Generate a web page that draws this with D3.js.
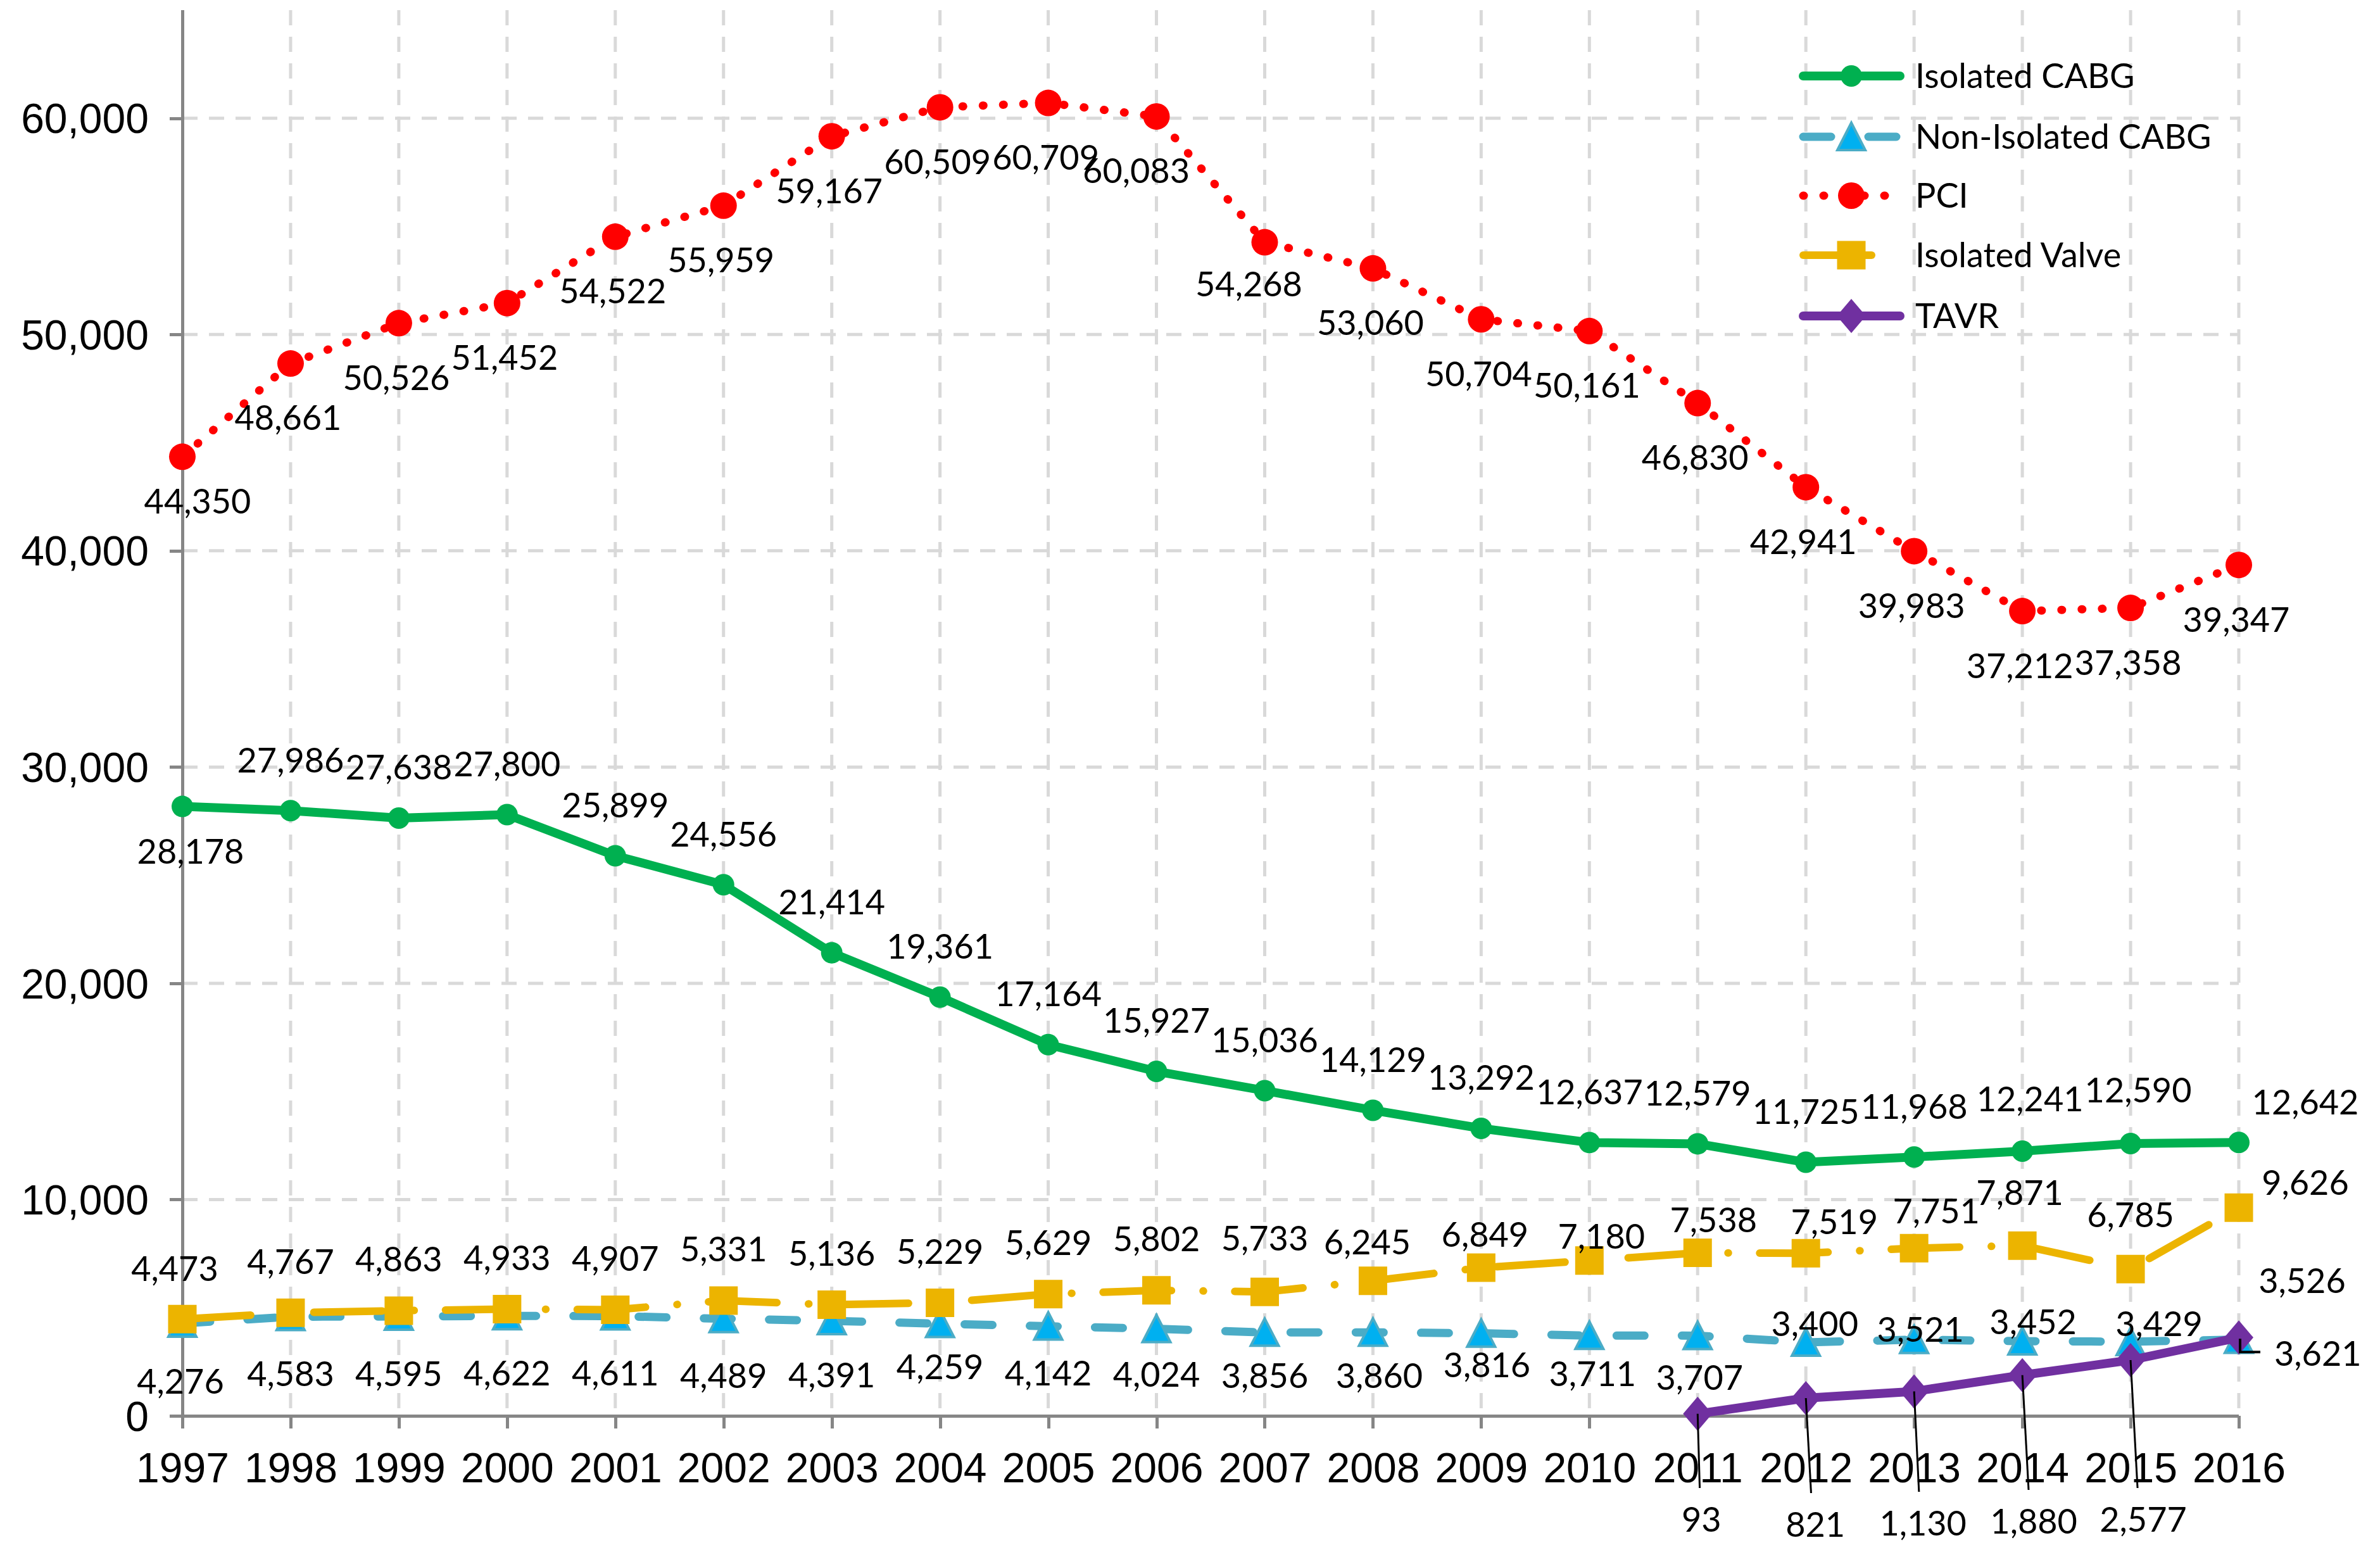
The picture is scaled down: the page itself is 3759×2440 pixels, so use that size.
<!DOCTYPE html>
<html>
<head>
<meta charset="utf-8">
<script src="https://cdn.jsdelivr.net/npm/d3@7"></script>
<style>
html,body{margin:0;padding:0;background:#ffffff;}
svg{display:block;}
</style>
</head>
<body>
<svg id="chart" width="3759" height="2440"></svg>
<script>
// ---------------- DATA ----------------
const years = ["1997","1998","1999","2000","2001","2002","2003","2004","2005","2006",
               "2007","2008","2009","2010","2011","2012","2013","2014","2015","2016"];
const isolatedCABG    = [28178,27986,27638,27800,25899,24556,21414,19361,17164,15927,
                         15036,14129,13292,12637,12579,11725,11968,12241,12590,12642];
const nonIsolatedCABG = [4276,4583,4595,4622,4611,4489,4391,4259,4142,4024,
                         3856,3860,3816,3711,3707,3400,3521,3452,3429,3526];
const pci             = [44350,48661,50526,51452,54522,55959,59167,60509,60709,60083,
                         54268,53060,50704,50161,46830,42941,39983,37212,37358,39347];
const isolatedValve   = [4473,4767,4863,4933,4907,5331,5136,5229,5629,5802,
                         5733,6245,6849,7180,7538,7519,7751,7871,6785,9626];
const tavrYears       = ["2011","2012","2013","2014","2015","2016"];
const tavr            = [93,821,1130,1880,2577,3621];
const yTickValues     = [0,10000,20000,30000,40000,50000,60000];
const seriesNames     = ["Isolated CABG","Non-Isolated CABG","PCI","Isolated Valve","TAVR"];

// ---------------- LAYOUT / STYLE ----------------
const W = 3759, H = 2440;
const plot = {left: 288, right: 3536, top: 16, bottom: 2236};
const yMax = 65000;

const styles = {
  "Isolated CABG":     {color:"#00B050", width:14, dash:null,              marker:"circle",   r:17},
  "Non-Isolated CABG": {color:"#4BACC6", width:13, dash:"44,59",           marker:"triangle", fill:"#00B0F0"},
  "PCI":               {color:"#FF0000", width:13, dash:"1,31",            marker:"circle",   r:21},
  "Isolated Valve":    {color:"#ECB400", width:12, dash:"108,50,0.5,49.5", marker:"square"},
  "TAVR":              {color:"#7030A0", width:14, dash:null,              marker:"diamond"}
};

// label offsets relative to the point (layout only)
const labelLayout = {
  "Isolated CABG": {def:[0,-80], nudge:{"1997":[13,71],"2014":[12,-82],"2015":[12,-84],"2016":[105,-64]}},
  "Non-Isolated CABG": {def:[0,90], nudge:{
      "1997":[-3,92],"2003":[0,86],"2004":[0,68],"2005":[0,74],"2006":[0,72],"2007":[0,68],
      "2008":[10,68],"2009":[9,50],"2010":[5,60],"2011":[3,66],
      "2012":[14,-29],"2013":[10,-16],"2014":[17,-31],"2015":[45,-28],"2016":[100,-93]}},
  "PCI": {def:[-4,86], nudge:{"1997":[24,70],"2006":[-32,86],"2007":[-25,66]}},
  "Isolated Valve": {def:[0,-81], nudge:{
      "1997":[-12,-80],"2007":[0,-85],"2008":[-9,-61],"2009":[6,-53],"2010":[19,-38],
      "2011":[25,-52],"2012":[45,-50],"2013":[35,-59],"2014":[-4,-84],"2015":[0,-86],"2016":[105,-40]}}
};
// TAVR labels sit below the axis with leader lines (offset below the zero line)
const tavrLabelLayout = {
  "2011":[6,164],"2012":[15,172],"2013":[14,170],"2014":[18,167],"2015":[20,164]
};

const axisFont = "'Liberation Sans', Arial, sans-serif";
const labelFont = "Lato, 'Open Sans', sans-serif";

// ---------------- SCALES ----------------
const x = d3.scalePoint().domain(years).range([plot.left, plot.right]).padding(0);
const y = d3.scaleLinear().domain([0, yMax]).range([plot.bottom, plot.top]);

const svg = d3.select("#chart");
svg.append("rect").attr("width", W).attr("height", H).attr("fill", "#ffffff");

// ---------------- GRID ----------------
const grid = svg.append("g").attr("class","grid")
  .attr("stroke","#D9D9D9").attr("stroke-width",5).attr("stroke-dasharray","24,18").attr("fill","none");
grid.selectAll("line.h").data(yTickValues.filter(v => v > 0)).join("line")
  .attr("class","h")
  .attr("x1", plot.left).attr("x2", plot.right)
  .attr("y1", d => y(d)).attr("y2", d => y(d));
grid.selectAll("line.v").data(years.slice(1)).join("line")
  .attr("class","v")
  .attr("x1", d => x(d)).attr("x2", d => x(d))
  .attr("y1", plot.top).attr("y2", plot.bottom);

// ---------------- AXES ----------------
const yAxis = d3.axisLeft(y).tickValues(yTickValues).tickFormat(d3.format(",")).tickSize(20).tickPadding(33);
const gy = svg.append("g").attr("transform", `translate(${plot.left},0)`).call(yAxis);
gy.select(".domain").attr("stroke","#868686").attr("stroke-width",5)
  .attr("d", `M0,${plot.top}V${plot.bottom}`);
gy.selectAll(".tick line").attr("stroke","#868686").attr("stroke-width",5);
gy.selectAll(".tick text").attr("font-family", axisFont).attr("font-size", 66)
  .attr("fill","#000").attr("dy","0.35em");

const xAxis = d3.axisBottom(x).tickSize(20).tickSizeOuter(0);
const gx = svg.append("g").attr("transform", `translate(0,${plot.bottom})`).call(xAxis);
gx.select(".domain").attr("stroke","#868686").attr("stroke-width",5)
  .attr("d", `M${plot.left},0H${plot.right}`);
gx.selectAll(".tick line").attr("stroke","#868686").attr("stroke-width",5);
gx.selectAll(".tick text").attr("font-family", axisFont).attr("font-size", 66)
  .attr("fill","#000").attr("y", 82).attr("dy","0.35em");
svg.selectAll(".domain, .tick line").attr("shape-rendering","crispEdges");

// ---------------- SERIES ----------------
const seriesData = {
  "Isolated CABG": years.map((yr,i) => ({year:yr, value:isolatedCABG[i]})),
  "Non-Isolated CABG": years.map((yr,i) => ({year:yr, value:nonIsolatedCABG[i]})),
  "PCI": years.map((yr,i) => ({year:yr, value:pci[i]})),
  "Isolated Valve": years.map((yr,i) => ({year:yr, value:isolatedValve[i]})),
  "TAVR": tavrYears.map((yr,i) => ({year:yr, value:tavr[i]}))
};

function markerPath(type, st) {
  if (type === "circle") {
    const r = st.r;
    return `M${-r},0A${r},${r} 0 1,0 ${r},0A${r},${r} 0 1,0 ${-r},0Z`;
  }
  if (type === "triangle") return "M0,-22L22,21L-22,21Z";
  if (type === "square") return "M-22.5,-22.5H22.5V22.5H-22.5Z";
  if (type === "diamond") return "M0,-27L23,0L0,27L-23,0Z";
  return "";
}

function drawMarker(g, type, st) {
  const p = g.append("path").attr("d", markerPath(type, st));
  if (type === "triangle") {
    p.attr("fill", st.fill).attr("stroke", st.color).attr("stroke-width", 4).attr("stroke-linejoin","miter");
  } else {
    p.attr("fill", st.color).attr("stroke","none");
  }
}

const line = d3.line().x(d => x(d.year)).y(d => y(d.value));

const seriesG = svg.append("g").attr("class","series");
seriesNames.forEach(name => {
  const st = styles[name];
  const data = seriesData[name];
  const g = seriesG.append("g");
  g.append("path").datum(data)
    .attr("d", line)
    .attr("fill","none")
    .attr("stroke", st.color)
    .attr("stroke-width", st.width)
    .attr("stroke-linecap","round")
    .attr("stroke-linejoin","round")
    .attr("stroke-dasharray", st.dash);
  g.selectAll("g.m").data(data).join("g")
    .attr("class","m")
    .attr("transform", d => `translate(${x(d.year)},${y(d.value)})`)
    .each(function() { drawMarker(d3.select(this), st.marker, st); });
});

// ---------------- DATA LABELS ----------------
const fmt = d3.format(",");
const labelsG = svg.append("g").attr("font-family", labelFont).attr("font-size", 54).attr("fill","#000");
["Isolated CABG","Non-Isolated CABG","PCI","Isolated Valve"].forEach(name => {
  const lay = labelLayout[name];
  labelsG.selectAll(null).data(seriesData[name]).join("text")
    .attr("x", d => x(d.year) + (lay.nudge[d.year] || lay.def)[0])
    .attr("y", d => y(d.value) + (lay.nudge[d.year] || lay.def)[1])
    .attr("dy","0.36em")
    .attr("text-anchor","middle")
    .text(d => fmt(d.value));
});

// TAVR labels with leader lines
const tavrG = svg.append("g");
seriesData["TAVR"].forEach(d => {
  const px = x(d.year), py = y(d.value);
  if (tavrLabelLayout[d.year]) {
    const [dx, dyBelow] = tavrLabelLayout[d.year];
    const ly = y(0) + dyBelow;
    tavrG.append("line")
      .attr("x1", px).attr("y1", py)
      .attr("x2", px + dx * 0.55).attr("y2", ly - 50)
      .attr("stroke","#000").attr("stroke-width",3);
    tavrG.append("text")
      .attr("x", px + dx).attr("y", ly).attr("dy","0.36em")
      .attr("text-anchor","middle")
      .attr("font-family", labelFont).attr("font-size", 54)
      .text(fmt(d.value));
  } else {
    // last point: elbow leader to the right
    tavrG.append("path")
      .attr("d", `M${px + 2},${py + 2}V${py + 23}H${px + 34}`)
      .attr("fill","none").attr("stroke","#000").attr("stroke-width",4);
    tavrG.append("text")
      .attr("x", px + 56).attr("y", py + 25).attr("dy","0.36em")
      .attr("text-anchor","start")
      .attr("font-family", labelFont).attr("font-size", 54)
      .text(fmt(d.value));
  }
});

// ---------------- LEGEND ----------------
const legend = svg.append("g").attr("class","legend");
const legRowY = [120, 216, 309, 403, 499];
const legX0 = 2848, legX1 = 3001, legMx = 2924, legTx = 3025;
seriesNames.forEach((name, i) => {
  const st = styles[name];
  const gy0 = legRowY[i];
  const g = legend.append("g");
  g.append("line")
    .attr("x1", legX0).attr("x2", legX1).attr("y1", gy0).attr("y2", gy0)
    .attr("stroke", st.color).attr("stroke-width", st.width)
    .attr("stroke-linecap","round")
    .attr("stroke-dasharray", st.dash);
  const m = g.append("g").attr("transform", `translate(${legMx},${gy0})`);
  drawMarker(m, st.marker, st);
  g.append("text")
    .attr("x", legTx).attr("y", gy0).attr("dy","0.36em")
    .attr("font-family", labelFont).attr("font-size", 54).attr("fill","#000")
    .text(name);
});
</script>
</body>
</html>
